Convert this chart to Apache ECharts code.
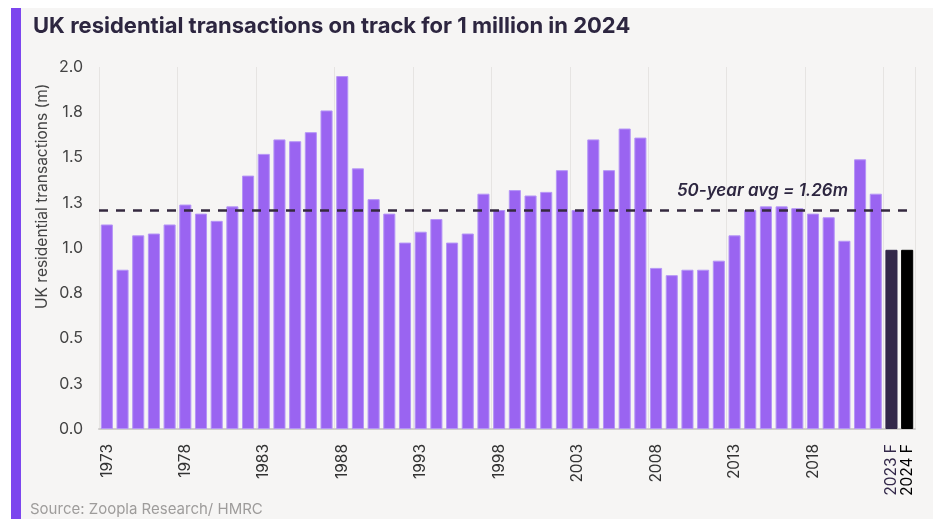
<!DOCTYPE html>
<html>
<head>
<meta charset="utf-8">
<script src="https://cdn.jsdelivr.net/npm/echarts@6/dist/echarts.min.js"></script>
<style>
html,body{margin:0;padding:0;background:#fff;}
#main{width:935px;height:519px;}
</style>
</head>
<body>
<div id="main"></div>
<script>
const titleText = 'UK residential transactions on track for 1 million in 2024';
const yAxisTitle = 'UK residential transactions (m)';
const sourceText = 'Source: Zoopla Research/ HMRC';
const avgLabel = '50-year avg = 1.26m';
const avgLinePosition = 1.21;

const categories = ['1973','1974','1975','1976','1977','1978','1979','1980','1981','1982',
  '1983','1984','1985','1986','1987','1988','1989','1990','1991','1992',
  '1993','1994','1995','1996','1997','1998','1999','2000','2001','2002',
  '2003','2004','2005','2006','2007','2008','2009','2010','2011','2012',
  '2013','2014','2015','2016','2017','2018','2019','2020','2021','2022',
  '2023 F','2024 F'];
const transactions = [1.13,0.88,1.07,1.08,1.13,1.24,1.19,1.15,1.23,1.40,
  1.52,1.60,1.59,1.64,1.76,1.95,1.44,1.27,1.19,1.03,
  1.09,1.16,1.03,1.08,1.30,1.21,1.32,1.29,1.31,1.43,
  1.21,1.60,1.43,1.66,1.61,0.89,0.85,0.88,0.88,0.93,
  1.07,1.21,1.23,1.23,1.22,1.19,1.17,1.04,1.49,1.30,
  0.99,0.99];

const FONT = 'Inter, "Noto Sans", sans-serif';
const barPurple = '#9a64f1';
const forecastColors = {'2023 F':'#33284a','2024 F':'#000000'};

const chart = echarts.init(document.getElementById('main'), null, {renderer:'canvas'});

const lastIdx = categories.length - 1;
const gridIdx = (i) => (i % 5 === 0);
const axisData = categories.map(c => forecastColors[c] ? {value:c, textStyle:{color:forecastColors[c]}} : c);
const labelBase = {hideOverlap:false, rotate:90, margin:15, fontSize:15.5, fontFamily:FONT, color:'#333'};

const option = {
  backgroundColor: '#ffffff',
  animation: false,
  grid: {left: 99, right: 20, top: 67, bottom: 90},
  graphic: [
    {type:'rect', z:-10, silent:true, shape:{x:11, y:8, width:922, height:511}, style:{fill:'#f6f5f4'}},
    {type:'rect', z:-9, silent:true, shape:{x:11, y:8, width:10, height:511}, style:{fill:'#7c46ee'}},
    {type:'text', left:33, top:15, style:{text:titleText, font:'bold 22px ' + FONT, fill:'#2d2640'}},
    {type:'text', left:30, top:502, style:{text:sourceText, font:'15px ' + FONT, fill:'#9e9c9b'}},
    {type:'text', x:42, y:309, rotation:Math.PI/2,
      style:{text:yAxisTitle, font:'15.5px ' + FONT, fill:'#444', textAlign:'left', textVerticalAlign:'middle'}}
  ],
  xAxis: [{
    type: 'category',
    data: axisData,
    boundaryGap: true,
    position: 'bottom',
    axisLine: {show:true, lineStyle:{color:'#cfcdcc', width:2}},
    axisTick: {show:false},
    axisLabel: Object.assign({}, labelBase, {interval: (i) => gridIdx(i)}),
    splitLine: {show:true, interval: (i) => gridIdx(i), lineStyle:{color:'#e6e4e2', width:1}}
  }, {
    type: 'category',
    data: axisData,
    boundaryGap: true,
    position: 'bottom',
    offset: 0,
    axisLine: {show:false},
    axisTick: {show:false},
    splitLine: {show:false},
    axisLabel: Object.assign({}, labelBase, {interval: (i) => i === lastIdx})
  }],
  yAxis: {
    type: 'value',
    min: 0, max: 2, interval: 0.25,
    axisLine: {show:false},
    axisTick: {show:false},
    splitLine: {show:false},
    axisLabel: {formatter: (v) => v.toFixed(1), margin:16, fontSize:16, fontFamily:FONT, color:'#444'}
  },
  series: [{
    type: 'bar',
    xAxisIndex: 0,
    data: transactions.map((v, i) => {
      const c = categories[i];
      if (forecastColors[c]) return {value:v, itemStyle:{color:forecastColors[c], borderColor:forecastColors[c]}};
      return v;
    }),
    barCategoryGap: '23%',
    itemStyle: {color: barPurple, borderColor:'#b595f6', borderWidth:1},
    markLine: {
      silent: true,
      symbol: ['none','none'],
      lineStyle: {type:[9,8], color:'#35293f', width:2.5},
      label: {show:true, position:'insideEndTop', distance:[67, 11], formatter: avgLabel,
        fontFamily:FONT, fontStyle:'italic', fontWeight:600, fontSize:17, color:'#2d2640'},
      data: [{yAxis: avgLinePosition}]
    }
  }]
};
chart.setOption(option);
</script>
</body>
</html>
